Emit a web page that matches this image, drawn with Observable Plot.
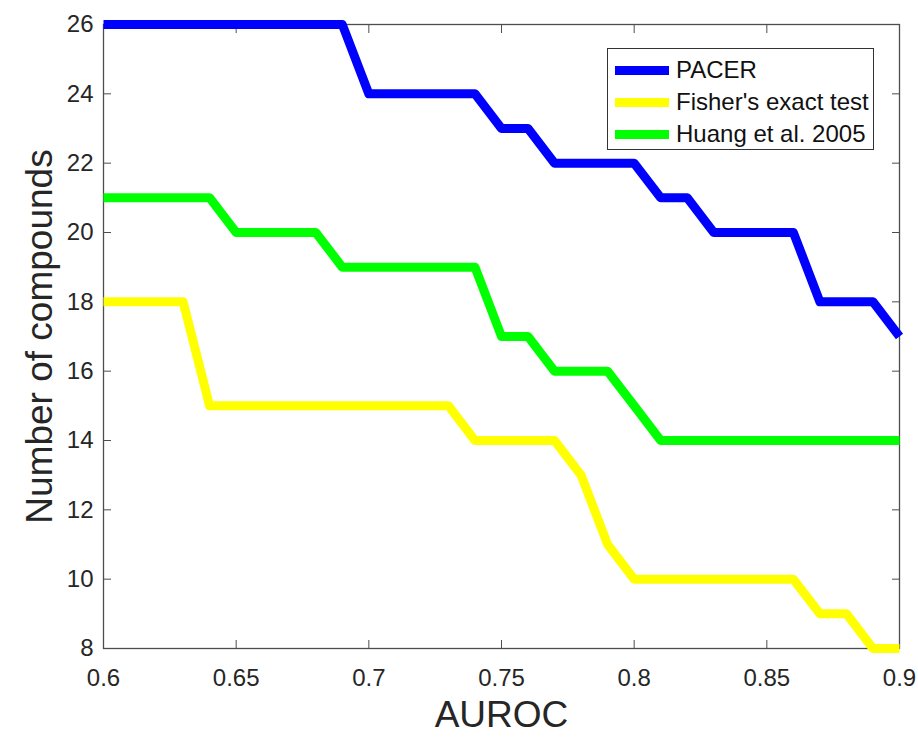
<!DOCTYPE html>
<html>
<head>
<meta charset="utf-8">
<script src="https://cdn.jsdelivr.net/npm/d3@7"></script>
<script src="https://cdn.jsdelivr.net/npm/@observablehq/plot@0.6"></script>
<style>
  body { margin: 0; background: #fff; }
  #wrap { position: relative; width: 918px; height: 737px; font-family: "Liberation Sans", Arial, sans-serif; }
  #legend { position: absolute; left: 607px; top: 48px; width: 267px; height: 102px; border: 1.3px solid #333; background: #fff; box-sizing: border-box; }
  .row { position: absolute; left: 0; height: 32px; display: flex; align-items: center; font-size: 24px; color: #111; }
  .sw { width: 54px; height: 9px; margin-left: 7px; margin-right: 7px; }
</style>
</head>
<body>
<div id="wrap"></div>
<script>
const auroc = [0.60,0.61,0.62,0.63,0.64,0.65,0.66,0.67,0.68,0.69,0.70,0.71,0.72,0.73,0.74,0.75,0.76,0.77,0.78,0.79,0.80,0.81,0.82,0.83,0.84,0.85,0.86,0.87,0.88,0.89,0.90];
const pacer  = [26,26,26,26,26,26,26,26,26,26,24,24,24,24,24,23,23,22,22,22,22,21,21,20,20,20,20,18,18,18,17];
const fisher = [18,18,18,18,15,15,15,15,15,15,15,15,15,15,14,14,14,14,13,11,10,10,10,10,10,10,10,9,9,8,8];
const huang  = [21,21,21,21,21,20,20,20,20,19,19,19,19,19,19,17,17,16,16,16,15,14,14,14,14,14,14,14,14,14,14];
const seriesNames = ["PACER", "Fisher's exact test", "Huang et al. 2005"];
const seriesColors = ["#0000ff", "#ffff00", "#00ff00"];
const xTicks = [0.6, 0.65, 0.7, 0.75, 0.8, 0.85, 0.9];
const xTickLabels = ["0.6", "0.65", "0.7", "0.75", "0.8", "0.85", "0.9"];
const yTicks = [8, 10, 12, 14, 16, 18, 20, 22, 24, 26];
const xLabel = "AUROC";
const yLabel = "Number of compounds";

const seriesValues = [pacer, fisher, huang];
const rows = [];
seriesNames.forEach((name, i) => {
  auroc.forEach((x, j) => rows.push({series: name, x, y: seriesValues[i][j]}));
});

const axisColor = "#4d4d4d";
const chart = Plot.plot({
  width: 918,
  height: 737,
  marginLeft: 103,
  marginRight: 19,
  marginTop: 24,
  marginBottom: 89,
  style: {fontFamily: "Liberation Sans, Arial, sans-serif", fontSize: "24px", color: "#262626", background: "#fff"},
  x: {domain: [0.6, 0.9]},
  y: {domain: [8, 26]},
  color: {domain: seriesNames, range: seriesColors},
  marks: [
    Plot.frame({stroke: axisColor, strokeWidth: 1.3}),
    Plot.axisX({ticks: xTicks, tickSize: -8, tickPadding: 28, stroke: axisColor, tickFormat: (d, i) => xTickLabels[i], fontSize: 24, label: null}),
    Plot.axisX({anchor: "top", ticks: xTicks, tickSize: -8, stroke: axisColor, tickFormat: () => "", label: null}),
    Plot.axisY({ticks: yTicks, tickSize: -8, tickPadding: 18, stroke: axisColor, fontSize: 24, label: null}),
    Plot.axisY({anchor: "right", ticks: yTicks, tickSize: -8, stroke: axisColor, tickFormat: () => "", label: null}),
    Plot.line(rows, {x: "x", y: "y", z: "series", stroke: "series", strokeWidth: 9, strokeLinejoin: "round", strokeLinecap: "butt", clip: false}),
    Plot.text([xLabel], {frameAnchor: "bottom", dy: 67, lineAnchor: "middle", textAnchor: "middle", fontSize: 37, fill: "#262626"}),
    Plot.text([yLabel], {frameAnchor: "left", dx: -63, rotate: -90, textAnchor: "middle", lineAnchor: "middle", fontSize: 37, fill: "#262626"})
  ]
});

const wrap = document.getElementById("wrap");
wrap.appendChild(chart);
const legend = document.createElement("div");
legend.id = "legend";
seriesNames.forEach((name, i) => {
  const r = document.createElement("div");
  r.className = "row";
  r.style.top = (5 + i * 32) + "px";
  const sw = document.createElement("span");
  sw.className = "sw";
  sw.style.background = seriesColors[i];
  const t = document.createElement("span");
  t.textContent = name;
  r.appendChild(sw); r.appendChild(t);
  legend.appendChild(r);
});
wrap.appendChild(legend);
</script>
</body>
</html>
